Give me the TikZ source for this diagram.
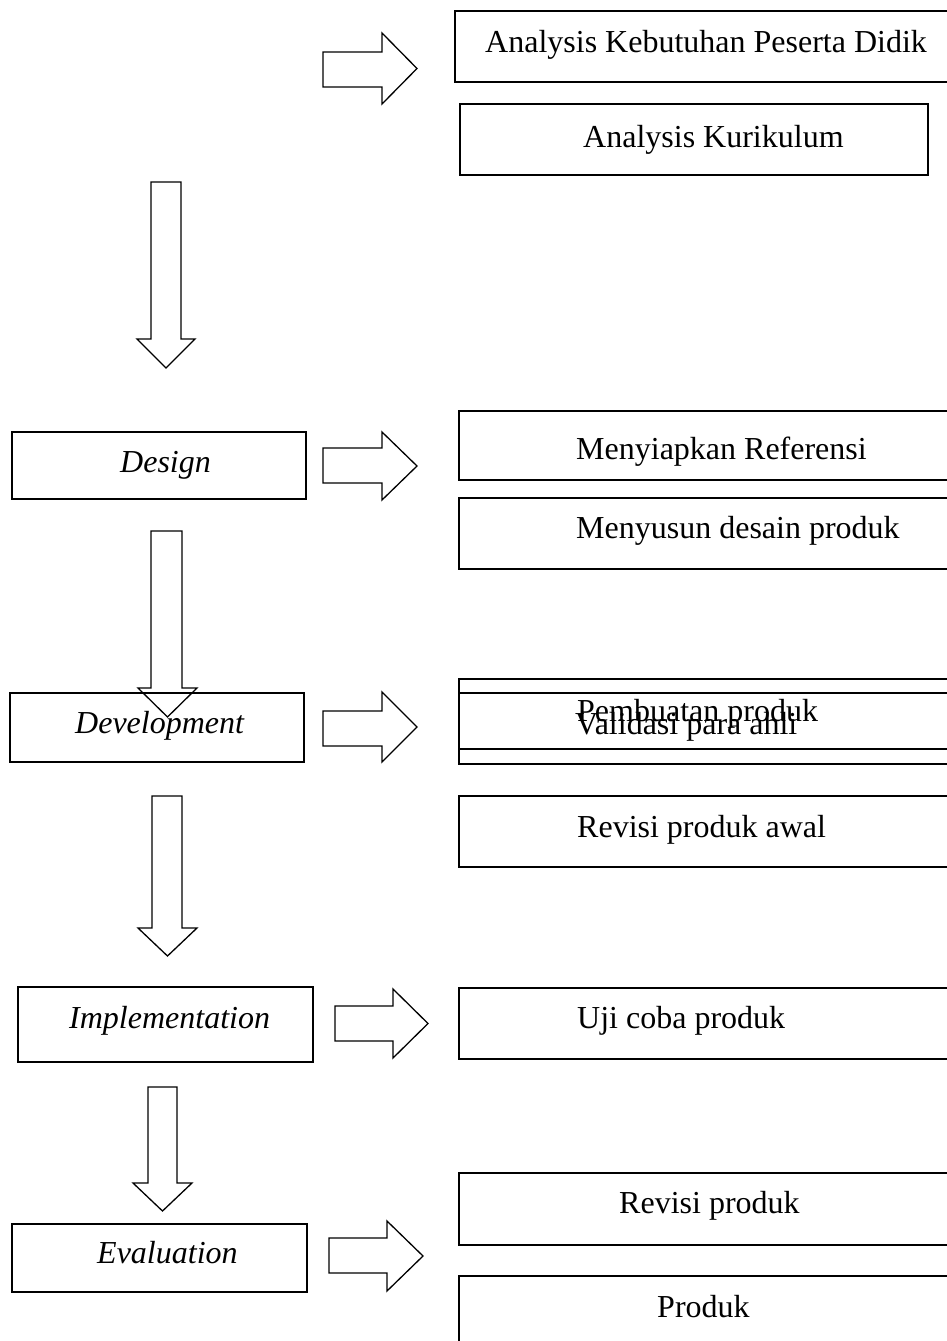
\documentclass[tikz,border=0pt]{standalone}
\usepackage{fontspec}
\setmainfont{Liberation Serif}
\usetikzlibrary{fit}

\tikzset{
  box/.style={draw, line width=1.3pt, inner sep=0pt},
  txt/.style={inner sep=0pt, anchor=base west, font=\fontsize{32}{38}\selectfont},
  phase/.style={txt, font=\fontsize{32}{38}\selectfont\itshape},
  blockarrow/.style={draw, line width=1.3pt, line join=miter}
}

% right-pointing block arrow: #1 x start, #2 head x, #3 tip x,
% #4 shaft top, #5 shaft bottom, #6 head top, #7 head bottom
\newcommand{\rightblock}[7]{%
  \draw[blockarrow] (#1,#4) -- (#2,#4) -- (#2,#6) -- (#3,{(#6+#7)/2})
    -- (#2,#7) -- (#2,#5) -- (#1,#5) -- cycle;}
% downward block arrow: #1 shaft left, #2 shaft right, #3 top,
% #4 head y, #5 head left, #6 head right, #7 tip y
\newcommand{\downblock}[7]{%
  \draw[blockarrow] (#1,#3) -- (#2,#3) -- (#2,#4) -- (#6,#4) -- ({(#5+#6)/2},#7)
    -- (#5,#4) -- (#1,#4) -- cycle;}

\begin{document}
\begin{tikzpicture}[x=1pt, y=-1pt]
\clip (0,0) rectangle (947,1341);
\fill[white] (0,0) rectangle (947,1341);

% boxes
\node[box, fit={(455,11) (960,82)}] (kebutuhan) {};
\node[box, fit={(460,104) (928,175)}] (kurikulum) {};
\node[box, fit={(12,432) (306,499)}] (design) {};
\node[box, fit={(459,411) (960,480)}] (referensi) {};
\node[box, fit={(459,498) (960,569)}] (desain) {};
\node[box, fit={(10,693) (304,762)}] (development) {};
\node[box, fit={(459,679) (960,749)}] (pembuatan) {};
\node[box, fit={(459,693) (960,764)}] (validasi) {};
\node[box, fit={(459,796) (960,867)}] (revawal) {};
\node[box, fit={(18,987) (313,1062)}] (implementation) {};
\node[box, fit={(459,988) (960,1059)}] (ujicoba) {};
\node[box, fit={(12,1224) (307,1292)}] (evaluation) {};
\node[box, fit={(459,1173) (960,1245)}] (revisi) {};
\node[box, fit={(459,1276) (960,1370)}] (produk) {};

% texts
\node[txt] (t-kebutuhan) at (485,52) {Analysis Kebutuhan Peserta Didik};
\node[txt] (t-kurikulum) at (583,147) {Analysis Kurikulum};
\node[phase] (t-design) at (120,472) {Design};
\node[txt] (t-referensi) at (576,459) {Menyiapkan Referensi};
\node[txt] (t-desain) at (576,538) {Menyusun desain produk};
\node[phase] (t-development) at (75,733) {Development};
\node[txt] (t-pembuatan) at (577,721) {Pembuatan produk};
\node[txt] (t-validasi) at (575,734) {Validasi para ahli};
\node[txt] (t-revawal) at (577,837) {Revisi produk awal};
\node[phase] (t-implementation) at (69,1028) {Implementation};
\node[txt] (t-ujicoba) at (577,1028) {Uji coba produk};
\node[phase] (t-evaluation) at (97,1263) {Evaluation};
\node[txt] (t-revisi) at (619,1213) {Revisi produk};
\node[txt] (t-produk) at (657,1317) {Produk};

% horizontal block arrows
\rightblock{323}{382}{417}{52}{87}{33}{104}
\rightblock{323}{382}{417}{448}{483}{432}{500}
\rightblock{323}{382}{417}{711}{746}{692}{762}
\rightblock{335}{393}{428}{1006}{1041}{989}{1058}
\rightblock{329}{387}{423}{1238}{1273}{1221}{1291}

% vertical block arrows
\downblock{151}{181}{182}{339}{137}{195}{368}
\downblock{151}{182}{531}{688}{138}{197}{717}
\downblock{152}{182}{796}{928}{138}{197}{956}
\downblock{148}{177}{1087}{1183}{133}{192}{1211}
\end{tikzpicture}
\end{document}
